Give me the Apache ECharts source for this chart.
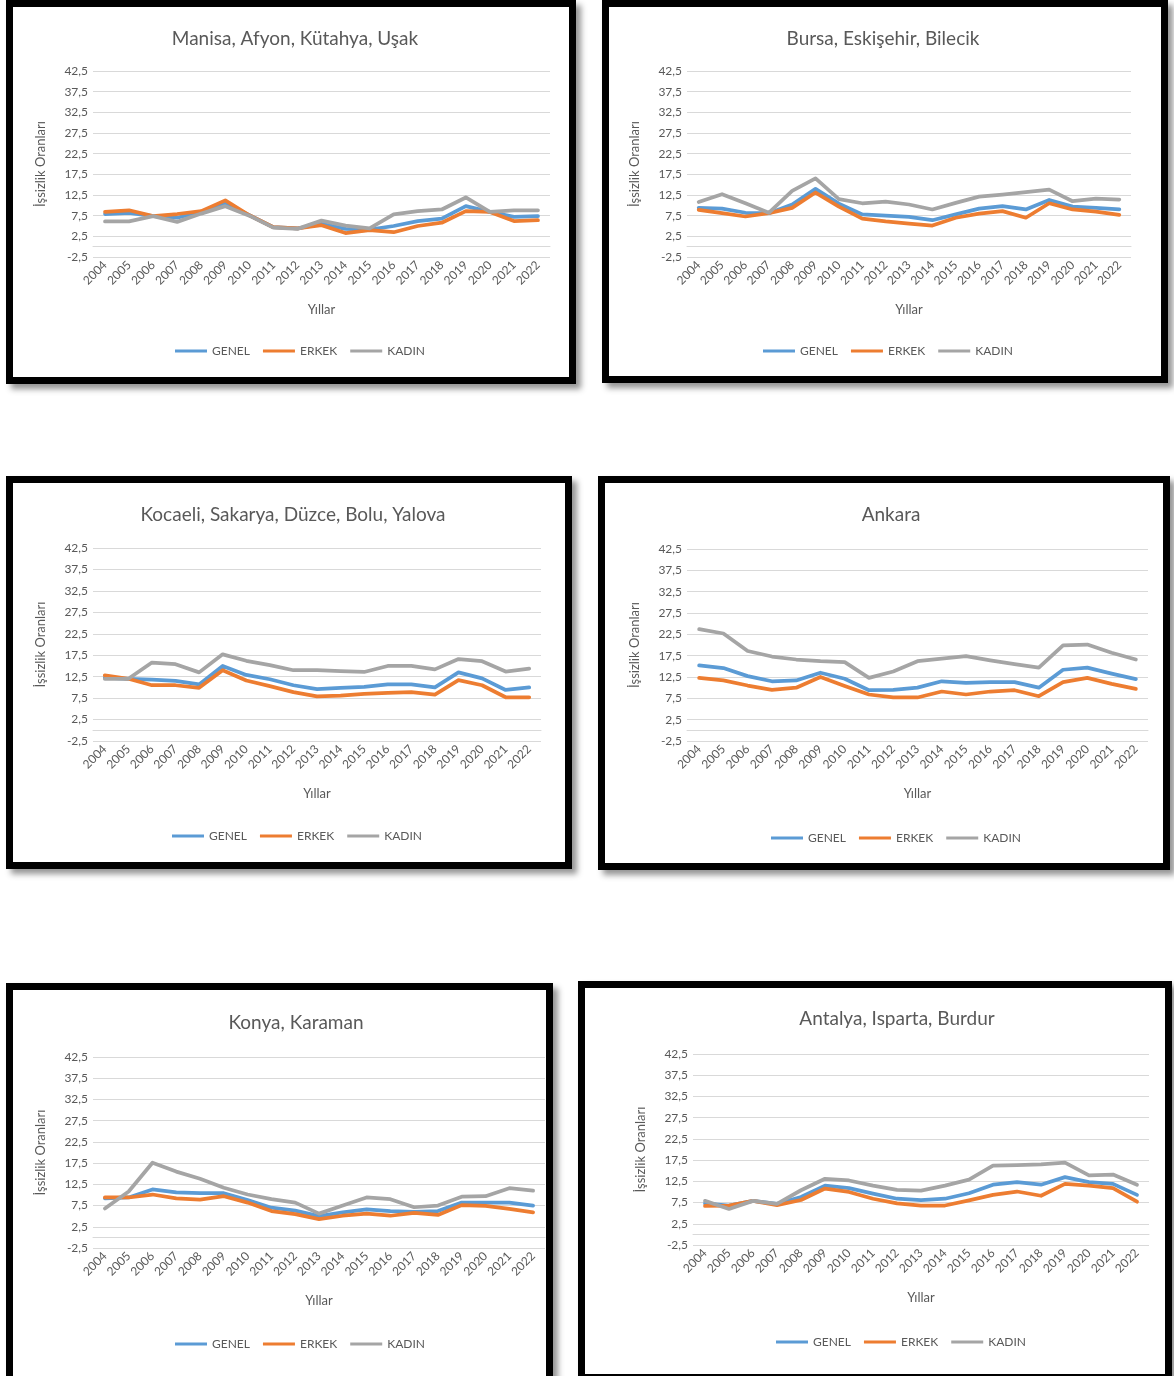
<!DOCTYPE html>
<html>
<head>
<meta charset="utf-8">
<script src="https://cdn.jsdelivr.net/npm/echarts@6/dist/echarts.min.js"></script>
<style>
  html, body { margin: 0; padding: 0; background: #fff; width: 1174px; height: 1376px; overflow: hidden; }
  body { position: relative; }
  .panel { position: absolute; box-sizing: border-box; border: 7px solid #000; background: #fff;
           box-shadow: 5px 5px 6px rgba(0,0,0,0.42); }
  #chart { position: absolute; left: 0; top: 0; width: 1174px; height: 1376px; }
</style>
</head>
<body>
<div id="panels"></div>
<div id="chart"></div>
<script>
// Years on the category axis
const years = ['2004','2005','2006','2007','2008','2009','2010','2011','2012','2013',
               '2014','2015','2016','2017','2018','2019','2020','2021','2022'];

const seriesNames = ['GENEL', 'ERKEK', 'KADIN'];

const regionTitles = [
  'Manisa, Afyon, Kütahya, Uşak',
  'Bursa, Eskişehir, Bilecik',
  'Kocaeli, Sakarya, Düzce, Bolu, Yalova',
  'Ankara',
  'Konya, Karaman',
  'Antalya, Isparta, Burdur'
];

// Unemployment rates (%) per region: general, male, female
const manisaGenel = [7.9, 8.2, 7.4, 7.0, 8.4, 10.6, 7.6, 4.7, 4.4, 5.5, 4.3, 4.1, 5.0, 6.2, 6.8, 9.8, 8.4, 7.2, 7.4];
const manisaErkek = [8.4, 8.8, 7.4, 7.9, 8.6, 11.2, 7.6, 4.7, 4.4, 5.2, 3.3, 4.0, 3.5, 5.0, 5.8, 8.6, 8.4, 6.2, 6.4];
const manisaKadin = [6.1, 6.1, 7.4, 6.0, 8.0, 9.8, 7.5, 4.6, 4.3, 6.3, 5.1, 4.4, 7.8, 8.6, 9.0, 11.9, 8.4, 8.8, 8.8];

const bursaGenel = [9.4, 9.2, 8.2, 8.1, 10.2, 14.0, 10.4, 7.8, 7.5, 7.2, 6.4, 7.8, 9.2, 9.8, 9.0, 11.3, 9.7, 9.4, 9.0];
const bursaErkek = [8.9, 8.1, 7.3, 8.1, 9.4, 13.1, 9.7, 6.8, 6.1, 5.6, 5.1, 7.0, 8.0, 8.6, 7.0, 10.5, 9.0, 8.5, 7.7];
const bursaKadin = [10.8, 12.7, 10.5, 8.2, 13.5, 16.5, 11.5, 10.5, 10.9, 10.2, 9.0, 10.6, 12.1, 12.6, 13.2, 13.8, 11.0, 11.6, 11.4];

const kocaeliGenel = [12.3, 12.0, 11.8, 11.5, 10.7, 15.0, 12.9, 11.9, 10.5, 9.6, 9.9, 10.1, 10.7, 10.7, 10.0, 13.5, 12.1, 9.4, 10.0];
const kocaeliErkek = [12.8, 12.0, 10.5, 10.5, 9.9, 14.0, 11.6, 10.3, 8.9, 7.9, 8.1, 8.5, 8.7, 8.9, 8.3, 11.7, 10.5, 7.7, 7.7];
const kocaeliKadin = [12.0, 12.0, 15.8, 15.4, 13.5, 17.7, 16.2, 15.2, 14.0, 14.0, 13.8, 13.6, 15.0, 15.0, 14.2, 16.6, 16.1, 13.7, 14.4];

const ankaraGenel = [15.2, 14.6, 12.7, 11.5, 11.7, 13.5, 12.1, 9.4, 9.5, 10.0, 11.5, 11.1, 11.3, 11.3, 10.0, 14.2, 14.7, 13.3, 12.0];
const ankaraErkek = [12.3, 11.7, 10.5, 9.5, 10.0, 12.5, 10.4, 8.4, 7.7, 7.7, 9.1, 8.4, 9.1, 9.4, 8.0, 11.3, 12.3, 10.9, 9.7];
const ankaraKadin = [23.7, 22.7, 18.6, 17.3, 16.6, 16.2, 16.0, 12.3, 13.8, 16.2, 16.8, 17.4, 16.4, 15.5, 14.7, 19.9, 20.1, 18.2, 16.6];

const konyaGenel = [9.2, 9.4, 11.3, 10.6, 10.4, 10.4, 8.8, 7.0, 6.3, 5.0, 5.9, 6.6, 6.2, 6.0, 6.2, 8.2, 8.2, 8.2, 7.5];
const konyaErkek = [9.4, 9.4, 10.1, 9.2, 8.9, 9.7, 8.2, 6.2, 5.5, 4.3, 5.1, 5.6, 5.1, 5.8, 5.3, 7.6, 7.4, 6.7, 5.9];
const konyaKadin = [6.8, 10.8, 17.6, 15.5, 13.8, 11.7, 10.1, 9.0, 8.2, 5.6, 7.5, 9.4, 9.0, 7.1, 7.5, 9.6, 9.7, 11.6, 11.0];

const antalyaGenel = [7.3, 6.8, 7.9, 7.2, 8.8, 11.5, 10.9, 9.6, 8.4, 8.1, 8.4, 9.7, 11.7, 12.3, 11.7, 13.5, 12.3, 11.9, 9.3];
const antalyaErkek = [6.7, 6.8, 7.9, 6.9, 8.1, 10.8, 10.0, 8.4, 7.3, 6.8, 6.8, 8.0, 9.3, 10.1, 9.1, 11.9, 11.5, 10.9, 7.7];
const antalyaKadin = [7.9, 6.0, 7.9, 7.2, 10.4, 13.1, 12.7, 11.5, 10.5, 10.3, 11.5, 12.9, 16.2, 16.3, 16.5, 16.9, 13.9, 14.1, 11.7];

// Value-axis range and step
const yMin = -2.5;
const yMax = 42.5;
const yStep = 5;

const regionData = [
  [manisaGenel, manisaErkek, manisaKadin],
  [bursaGenel, bursaErkek, bursaKadin],
  [kocaeliGenel, kocaeliErkek, kocaeliKadin],
  [ankaraGenel, ankaraErkek, ankaraKadin],
  [konyaGenel, konyaErkek, konyaKadin],
  [antalyaGenel, antalyaErkek, antalyaKadin]
];

// Page layout: framed boxes and plot areas (page pixels)
const frames = [
  { left: 6,   top: 0,   width: 570, height: 384 },
  { left: 602, top: 0,   width: 566, height: 383 },
  { left: 6,   top: 476, width: 566, height: 393 },
  { left: 598, top: 476, width: 572, height: 394 },
  { left: 6,   top: 983, width: 547, height: 400 },
  { left: 578, top: 981, width: 594, height: 400 }
];
const plots = [
  { left: 93,  top: 71,   width: 457, height: 186, titleX: 290, titleY: 24,   legendX: 291, legendY: 348 },
  { left: 687, top: 71,   width: 444, height: 186, titleX: 878, titleY: 24,   legendX: 879, legendY: 348 },
  { left: 93,  top: 548,  width: 448, height: 193, titleX: 288, titleY: 500,  legendX: 288, legendY: 833 },
  { left: 687, top: 549,  width: 461, height: 192, titleX: 886, titleY: 500,  legendX: 887, legendY: 835 },
  { left: 93,  top: 1057, width: 452, height: 191, titleX: 291, titleY: 1008, legendX: 291, legendY: 1341 },
  { left: 693, top: 1054, width: 456, height: 191, titleX: 892, titleY: 1004, legendX: 892, legendY: 1339 }
];

const colors = ['#5B9BD5', '#ED7D31', '#A5A5A5'];
const textColor = '#595959';
const gridColor = '#D9D9D9';
const fontFamily = 'Lato, "Open Sans", sans-serif';

// Framed boxes behind the chart canvas
const panelHost = document.getElementById('panels');
frames.forEach(f => {
  const d = document.createElement('div');
  d.className = 'panel';
  d.style.left = f.left + 'px';
  d.style.top = f.top + 'px';
  d.style.width = f.width + 'px';
  d.style.height = f.height + 'px';
  panelHost.appendChild(d);
});

const fmt = v => v.toFixed(1).replace('.', ',');

const option = {
  backgroundColor: 'transparent',
  animation: false,
  color: colors,
  textStyle: { fontFamily: fontFamily },
  title: [],
  legend: [],
  grid: [],
  xAxis: [],
  yAxis: [],
  series: []
};

plots.forEach((p, i) => {
  option.title.push({
    text: regionTitles[i],
    left: p.titleX,
    top: p.titleY,
    textAlign: 'center',
    textStyle: { fontFamily: fontFamily, fontSize: 19, fontWeight: 'normal', color: textColor }
  });
  option.legend.push({
    data: seriesNames,
    left: p.legendX - 121,
    top: p.legendY - 8,
    icon: 'rect',
    itemWidth: 32,
    itemHeight: 3,
    itemGap: 13,
    selectedMode: false,
    textStyle: { fontFamily: fontFamily, fontSize: 12, color: textColor }
  });
  option.grid.push({ left: p.left, top: p.top, width: p.width, height: p.height, containLabel: false });
  // category axis carrying the year labels along the bottom
  option.xAxis.push({
    type: 'category',
    gridIndex: i,
    data: years,
    boundaryGap: true,
    position: 'bottom',
    name: 'Yıllar',
    nameLocation: 'middle',
    nameGap: 46,
    nameTextStyle: { fontFamily: fontFamily, fontSize: 13, color: textColor },
    axisLine: { show: false, onZero: false },
    axisTick: { show: false },
    axisLabel: { rotate: 45, interval: 0, margin: 6, fontSize: 12, color: textColor, fontFamily: fontFamily }
  });
  // bare horizontal axis line crossing the value axis at zero
  option.xAxis.push({
    type: 'category',
    gridIndex: i,
    data: years,
    boundaryGap: true,
    position: 'bottom',
    axisLine: { show: true, onZero: true, onZeroAxisIndex: i, lineStyle: { color: gridColor, width: 1 } },
    axisTick: { show: false },
    axisLabel: { show: false },
    splitLine: { show: false }
  });
  option.yAxis.push({
    type: 'value',
    gridIndex: i,
    min: yMin,
    max: yMax,
    interval: yStep,
    name: 'İşsizlik Oranları',
    nameLocation: 'middle',
    nameRotate: 90,
    nameGap: 46,
    nameTextStyle: { fontFamily: fontFamily, fontSize: 13, color: textColor },
    axisLine: { show: false },
    axisTick: { show: false },
    axisLabel: { formatter: fmt, margin: 5, fontSize: 12, color: textColor, fontFamily: fontFamily },
    splitLine: { show: true, lineStyle: { color: gridColor, width: 1 } }
  });
  regionData[i].forEach((values, k) => {
    option.series.push({
      name: seriesNames[k],
      type: 'line',
      xAxisIndex: 2 * i,
      yAxisIndex: i,
      data: values,
      showSymbol: false,
      symbol: 'none',
      z: 2 + k,
      lineStyle: { width: 3.75, color: colors[k], cap: 'round', join: 'round' },
      itemStyle: { color: colors[k] }
    });
  });
});

const chart = echarts.init(document.getElementById('chart'), null, { renderer: 'canvas' });
chart.setOption(option);
</script>
</body>
</html>
